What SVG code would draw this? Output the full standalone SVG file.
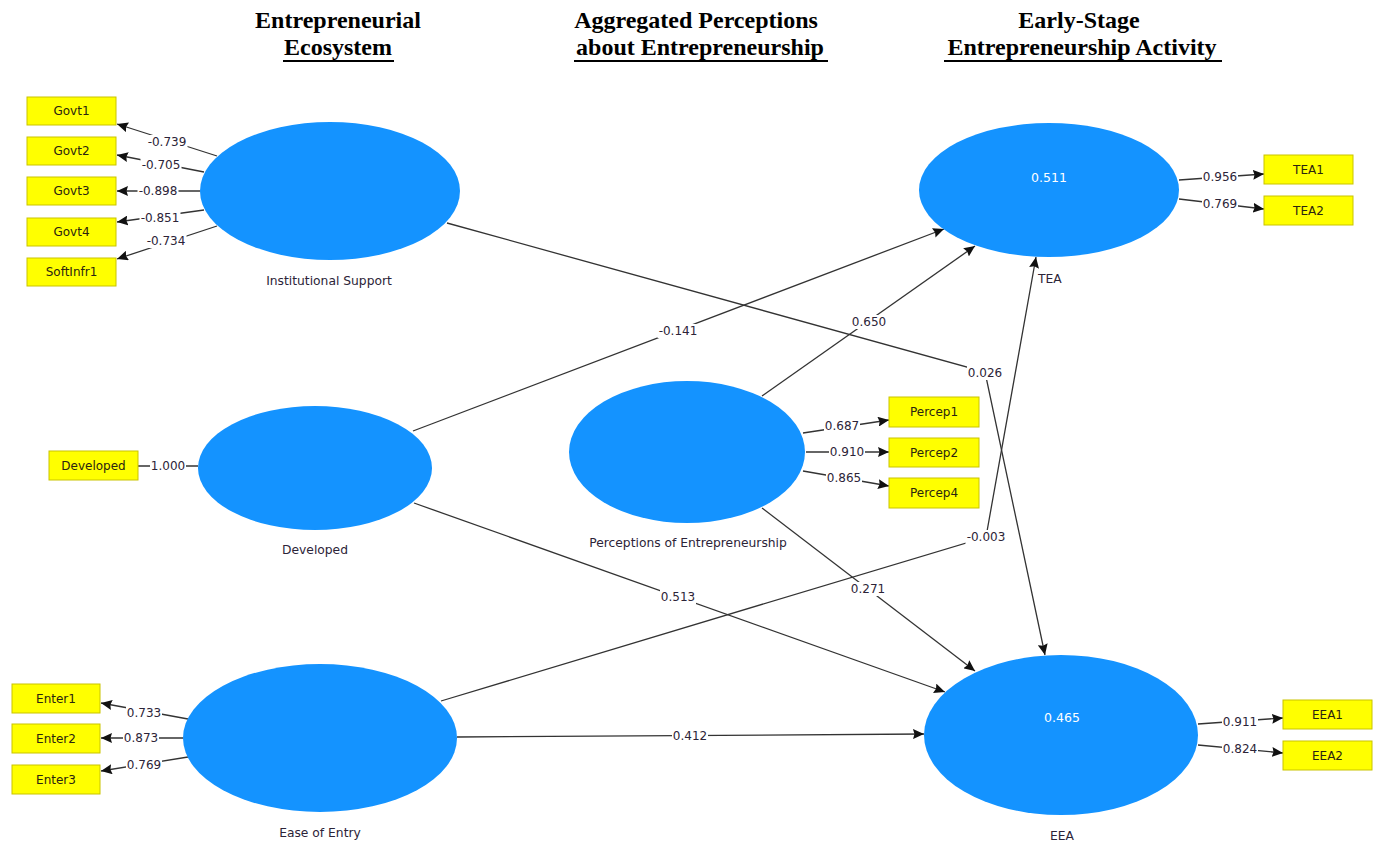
<svg xmlns="http://www.w3.org/2000/svg" width="1380" height="843" viewBox="0 0 1380 843">
  <style>
    .title { font-family: "Liberation Serif", "Times New Roman", serif; font-weight: bold; font-size: 24px; fill: #000; text-anchor: middle; }
    .uline { fill: #000; }
    .latent { fill: #1493ff; }
    .ind { fill: #ffff00; stroke: #c9c400; stroke-width: 1; }
    .indtxt { font-family: "DejaVu Sans", "Liberation Sans", sans-serif; font-size: 12px; fill: #2a2410; text-anchor: middle; dominant-baseline: central; }
    .name { font-family: "DejaVu Sans", "Liberation Sans", sans-serif; font-size: 12.3px; fill: #2c2438; text-anchor: middle; }
    .r2 { font-family: "DejaVu Sans", "Liberation Sans", sans-serif; font-size: 12.5px; fill: #ffffff; text-anchor: middle; dominant-baseline: central; }
    .link { fill: none; stroke: #333; stroke-width: 1.3; }
    .bg { fill: #fff; }
    .coef { font-family: "DejaVu Sans", "Liberation Sans", sans-serif; font-size: 12px; fill: #2c2438; text-anchor: middle; dominant-baseline: central; }
  </style>
  <defs>
    <marker id="arrow" markerUnits="userSpaceOnUse" markerWidth="12" markerHeight="10" refX="11" refY="5" orient="auto">
      <path d="M0,0 L11,5 L0,10 L1.5,5 z" fill="#111"/>
    </marker>
  </defs>

  <rect width="1380" height="843" fill="#fff"/>

  <!-- column headings -->
  <g id="headings">
    <text class="title" x="338" y="28">Entrepreneurial</text>
    <text class="title" x="338" y="55">Ecosystem</text>
    <rect class="uline" x="283" y="60" width="111" height="2"/>
    <text class="title" x="696" y="28">Aggregated Perceptions</text>
    <text class="title" x="700" y="55">about Entrepreneurship</text>
    <rect class="uline" x="574" y="60" width="254" height="2"/>
    <text class="title" x="1079" y="28">Early-Stage</text>
    <text class="title" x="1082" y="55">Entrepreneurship Activity</text>
    <rect class="uline" x="944" y="60" width="278" height="2"/>
  </g>

  <!-- paths and loadings -->
  <g id="connectors">
    <!-- outer loadings: Institutional Support -->
    <line class="link" x1="217" y1="156" x2="117" y2="124" marker-end="url(#arrow)"/>
    <line class="link" x1="204" y1="172" x2="117" y2="155" marker-end="url(#arrow)"/>
    <line class="link" x1="200" y1="191" x2="117" y2="191" marker-end="url(#arrow)"/>
    <line class="link" x1="204" y1="210" x2="117" y2="222" marker-end="url(#arrow)"/>
    <line class="link" x1="217" y1="226" x2="117" y2="259" marker-end="url(#arrow)"/>
    <!-- Developed -->
    <line class="link" x1="138" y1="466" x2="198" y2="466"/>
    <!-- Ease of Entry -->
    <line class="link" x1="188" y1="719" x2="101" y2="703" marker-end="url(#arrow)"/>
    <line class="link" x1="183" y1="738" x2="101" y2="738" marker-end="url(#arrow)"/>
    <line class="link" x1="188" y1="757" x2="101" y2="771" marker-end="url(#arrow)"/>
    <!-- Perceptions -->
    <line class="link" x1="803" y1="433" x2="889" y2="420" marker-end="url(#arrow)"/>
    <line class="link" x1="806" y1="452" x2="889" y2="452" marker-end="url(#arrow)"/>
    <line class="link" x1="803" y1="471" x2="889" y2="486" marker-end="url(#arrow)"/>
    <!-- TEA -->
    <line class="link" x1="1179" y1="180" x2="1264" y2="174" marker-end="url(#arrow)"/>
    <line class="link" x1="1179" y1="199" x2="1264" y2="209" marker-end="url(#arrow)"/>
    <!-- EEA -->
    <line class="link" x1="1198" y1="724" x2="1283" y2="718" marker-end="url(#arrow)"/>
    <line class="link" x1="1198" y1="745" x2="1283" y2="753" marker-end="url(#arrow)"/>

    <!-- inner (structural) paths -->
    <polyline class="link" points="447,223 985,372 1045,655" marker-end="url(#arrow)"/>
    <line class="link" x1="413" y1="431" x2="944" y2="229" marker-end="url(#arrow)"/>
    <line class="link" x1="762" y1="396" x2="975" y2="246" marker-end="url(#arrow)"/>
    <polyline class="link" points="441,701 986,537 1036,257" marker-end="url(#arrow)"/>
    <line class="link" x1="414" y1="503" x2="945" y2="692" marker-end="url(#arrow)"/>
    <line class="link" x1="762" y1="508" x2="975" y2="671" marker-end="url(#arrow)"/>
    <line class="link" x1="457" y1="737" x2="924" y2="734" marker-end="url(#arrow)"/>

    <!-- label backings that break the lines -->
    <rect class="bg" x="146.5" y="135" width="41" height="14"/>
    <rect class="bg" x="140.5" y="158" width="41" height="14"/>
    <rect class="bg" x="137.5" y="184" width="41" height="14"/>
    <rect class="bg" x="139.5" y="211" width="41" height="14"/>
    <rect class="bg" x="145.5" y="234" width="41" height="14"/>
    <rect class="bg" x="150" y="459" width="36" height="14"/>
    <rect class="bg" x="126" y="706" width="36" height="14"/>
    <rect class="bg" x="123" y="731" width="36" height="14"/>
    <rect class="bg" x="126" y="758" width="36" height="14"/>
    <rect class="bg" x="824" y="419" width="36" height="14"/>
    <rect class="bg" x="829" y="445" width="36" height="14"/>
    <rect class="bg" x="826" y="471" width="36" height="14"/>
    <rect class="bg" x="1202" y="170" width="36" height="14"/>
    <rect class="bg" x="1202" y="197" width="36" height="14"/>
    <rect class="bg" x="1222" y="715" width="36" height="14"/>
    <rect class="bg" x="1222" y="742" width="36" height="14"/>
    <rect class="bg" x="967" y="366" width="36" height="14"/>
    <rect class="bg" x="657.5" y="324" width="41" height="14"/>
    <rect class="bg" x="851" y="315" width="36" height="14"/>
    <rect class="bg" x="965.5" y="530" width="41" height="14"/>
    <rect class="bg" x="660" y="590" width="36" height="14"/>
    <rect class="bg" x="850" y="582" width="36" height="14"/>
    <rect class="bg" x="672" y="729" width="36" height="14"/>

    <!-- coefficient labels -->
    <text class="coef" x="167" y="142">-0.739</text>
    <text class="coef" x="161" y="165">-0.705</text>
    <text class="coef" x="158" y="191">-0.898</text>
    <text class="coef" x="160" y="218">-0.851</text>
    <text class="coef" x="166" y="241">-0.734</text>
    <text class="coef" x="168" y="466">1.000</text>
    <text class="coef" x="144" y="713">0.733</text>
    <text class="coef" x="141" y="738">0.873</text>
    <text class="coef" x="144" y="765">0.769</text>
    <text class="coef" x="842" y="426">0.687</text>
    <text class="coef" x="847" y="452">0.910</text>
    <text class="coef" x="844" y="478">0.865</text>
    <text class="coef" x="1220" y="177">0.956</text>
    <text class="coef" x="1220" y="204">0.769</text>
    <text class="coef" x="1240" y="722">0.911</text>
    <text class="coef" x="1240" y="749">0.824</text>
    <text class="coef" x="985" y="373">0.026</text>
    <text class="coef" x="678" y="331">-0.141</text>
    <text class="coef" x="869" y="322">0.650</text>
    <text class="coef" x="986" y="537">-0.003</text>
    <text class="coef" x="678" y="597">0.513</text>
    <text class="coef" x="868" y="589">0.271</text>
    <text class="coef" x="690" y="736">0.412</text>
  </g>

  <!-- latent variables -->
  <g id="institutional-support">
    <ellipse class="latent" cx="330" cy="191" rx="130" ry="69"/>
    <text class="name" x="329" y="285">Institutional Support</text>
  </g>
  <g id="developed">
    <ellipse class="latent" cx="315" cy="468" rx="117" ry="62"/>
    <text class="name" x="315" y="554">Developed</text>
  </g>
  <g id="ease-of-entry">
    <ellipse class="latent" cx="320" cy="738" rx="137" ry="74"/>
    <text class="name" x="320" y="837">Ease of Entry</text>
  </g>
  <g id="perceptions">
    <ellipse class="latent" cx="687" cy="452" rx="118" ry="71"/>
    <text class="name" x="688" y="547">Perceptions of Entrepreneurship</text>
  </g>
  <g id="tea">
    <ellipse class="latent" cx="1049" cy="190" rx="130" ry="67"/>
    <text class="r2" x="1049" y="177">0.511</text>
    <text class="name" x="1038" y="283" style="text-anchor:start">TEA</text>
  </g>
  <g id="eea">
    <ellipse class="latent" cx="1061" cy="735" rx="137" ry="80"/>
    <text class="r2" x="1062" y="717">0.465</text>
    <text class="name" x="1062" y="840">EEA</text>
  </g>

  <!-- indicators -->
  <g id="govt1"><rect class="ind" x="27" y="97" width="89" height="28"/><text class="indtxt" x="71.5" y="111">Govt1</text></g>
  <g id="govt2"><rect class="ind" x="27" y="137" width="89" height="28"/><text class="indtxt" x="71.5" y="151">Govt2</text></g>
  <g id="govt3"><rect class="ind" x="27" y="177" width="89" height="28"/><text class="indtxt" x="71.5" y="191">Govt3</text></g>
  <g id="govt4"><rect class="ind" x="27" y="218" width="89" height="28"/><text class="indtxt" x="71.5" y="232">Govt4</text></g>
  <g id="softinfr1"><rect class="ind" x="27" y="258" width="89" height="28"/><text class="indtxt" x="71.5" y="272">SoftInfr1</text></g>
  <g id="developed-ind"><rect class="ind" x="49" y="451" width="89" height="29"/><text class="indtxt" x="93.5" y="465.5">Developed</text></g>
  <g id="enter1"><rect class="ind" x="12" y="684" width="88" height="29"/><text class="indtxt" x="56" y="698.5">Enter1</text></g>
  <g id="enter2"><rect class="ind" x="12" y="724" width="88" height="29"/><text class="indtxt" x="56" y="738.5">Enter2</text></g>
  <g id="enter3"><rect class="ind" x="12" y="765" width="88" height="29"/><text class="indtxt" x="56" y="779.5">Enter3</text></g>
  <g id="percep1"><rect class="ind" x="889" y="397" width="90" height="30"/><text class="indtxt" x="934" y="412">Percep1</text></g>
  <g id="percep2"><rect class="ind" x="889" y="438" width="90" height="29"/><text class="indtxt" x="934" y="452.5">Percep2</text></g>
  <g id="percep4"><rect class="ind" x="889" y="478" width="90" height="30"/><text class="indtxt" x="934" y="493">Percep4</text></g>
  <g id="tea1"><rect class="ind" x="1264" y="155" width="89" height="29"/><text class="indtxt" x="1308.5" y="169.5">TEA1</text></g>
  <g id="tea2"><rect class="ind" x="1264" y="196" width="89" height="29"/><text class="indtxt" x="1308.5" y="210.5">TEA2</text></g>
  <g id="eea1"><rect class="ind" x="1283" y="700" width="89" height="29"/><text class="indtxt" x="1327.5" y="714.5">EEA1</text></g>
  <g id="eea2"><rect class="ind" x="1283" y="741" width="89" height="29"/><text class="indtxt" x="1327.5" y="755.5">EEA2</text></g>
</svg>
